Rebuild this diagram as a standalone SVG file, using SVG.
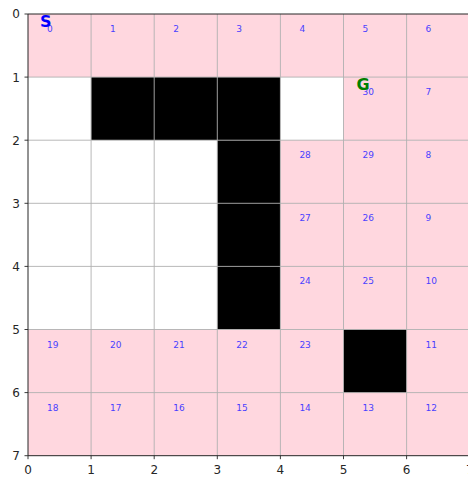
<svg xmlns="http://www.w3.org/2000/svg" width="468" height="477" viewBox="0 0 468 477">
<style>
.p{fill:#ffd7df}
.w{fill:#ffffff}
.b{fill:#000000}
.g{stroke:#b0b0b0;stroke-width:0.9;fill:none}
.n{font-family:"DejaVu Sans",sans-serif;font-size:9px;fill:#4a3fff}
.t{font-family:"DejaVu Sans",sans-serif;font-size:12px;fill:#262626}
.tk{stroke:#262626;stroke-width:0.9}
.sp{stroke:#262626;stroke-width:1;fill:none}
</style>
<rect x="0" y="0" width="468" height="477" fill="#ffffff"/>
<g id="cells">
<rect class="p" x="28" y="14" width="441.7" height="63.1"/>
<rect class="w" x="28" y="77.1" width="63.1" height="63.1"/>
<rect class="b" x="91.1" y="77.1" width="189.3" height="63.1"/>
<rect class="w" x="280.4" y="77.1" width="63.1" height="63.1"/>
<rect class="p" x="343.5" y="77.1" width="126.2" height="63.1"/>
<rect class="w" x="28" y="140.2" width="189.3" height="189.3"/>
<rect class="b" x="217.3" y="140.2" width="63.1" height="189.3"/>
<rect class="p" x="280.4" y="140.2" width="189.3" height="189.3"/>
<rect class="p" x="28" y="329.5" width="441.7" height="126.2"/>
<rect class="b" x="343.5" y="329.5" width="63.1" height="63.1"/>
</g>
<g id="grid" class="g">
<path d="M91.1 14V455.7M154.2 14V455.7M217.3 14V455.7M280.4 14V455.7M343.5 14V455.7M406.6 14V455.7"/>
<path d="M28 77.1H469.7M28 140.2H469.7M28 203.3H469.7M28 266.4H469.7M28 329.5H469.7M28 392.6H469.7"/>
</g>
<g id="spines" class="sp">
<path d="M28 14H469.7M28 14V455.7M28 455.7H469.7"/>
</g>
<g id="ticks" class="tk">
<path d="M28 455.7v3.5M91.1 455.7v3.5M154.2 455.7v3.5M217.3 455.7v3.5M280.4 455.7v3.5M343.5 455.7v3.5M406.6 455.7v3.5"/>
<path d="M28 14h-3.5M28 77.1h-3.5M28 140.2h-3.5M28 203.3h-3.5M28 266.4h-3.5M28 329.5h-3.5M28 392.6h-3.5M28 455.7h-3.5"/>
</g>
<g id="xlabels" class="t" text-anchor="middle">
<text x="28" y="473.5">0</text>
<text x="91.1" y="473.5">1</text>
<text x="154.2" y="473.5">2</text>
<text x="217.3" y="473.5">3</text>
<text x="280.4" y="473.5">4</text>
<text x="343.5" y="473.5">5</text>
<text x="406.6" y="473.5">6</text>
<text x="469.7" y="473.5">7</text>
</g>
<g id="ylabels" class="t" text-anchor="end">
<text x="20" y="18.4">0</text>
<text x="20" y="81.5">1</text>
<text x="20" y="144.6">2</text>
<text x="20" y="207.7">3</text>
<text x="20" y="270.8">4</text>
<text x="20" y="333.9">5</text>
<text x="20" y="397">6</text>
<text x="20" y="460.1">7</text>
</g>
<g id="numbers" class="n">
<text x="47" y="32">0</text>
<text x="110.1" y="32">1</text>
<text x="173.2" y="32">2</text>
<text x="236.3" y="32">3</text>
<text x="299.4" y="32">4</text>
<text x="362.5" y="32">5</text>
<text x="425.6" y="32">6</text>
<text x="362.5" y="95.1">30</text>
<text x="425.6" y="95.1">7</text>
<text x="299.4" y="158.2">28</text>
<text x="362.5" y="158.2">29</text>
<text x="425.6" y="158.2">8</text>
<text x="299.4" y="221.3">27</text>
<text x="362.5" y="221.3">26</text>
<text x="425.6" y="221.3">9</text>
<text x="299.4" y="284.4">24</text>
<text x="362.5" y="284.4">25</text>
<text x="425.6" y="284.4">10</text>
<text x="47" y="347.5">19</text>
<text x="110.1" y="347.5">20</text>
<text x="173.2" y="347.5">21</text>
<text x="236.3" y="347.5">22</text>
<text x="299.4" y="347.5">23</text>
<text x="425.6" y="347.5">11</text>
<text x="47" y="410.6">18</text>
<text x="110.1" y="410.6">17</text>
<text x="173.2" y="410.6">16</text>
<text x="236.3" y="410.6">15</text>
<text x="299.4" y="410.6">14</text>
<text x="362.5" y="410.6">13</text>
<text x="425.6" y="410.6">12</text>
</g>
<g id="start"><text x="40" y="27" font-family="DejaVu Sans,sans-serif" font-size="16" font-weight="bold" fill="#0000ff">S</text></g>
<g id="goal"><text x="356.5" y="90" font-family="DejaVu Sans,sans-serif" font-size="16" font-weight="bold" fill="#008000">G</text></g>
</svg>
